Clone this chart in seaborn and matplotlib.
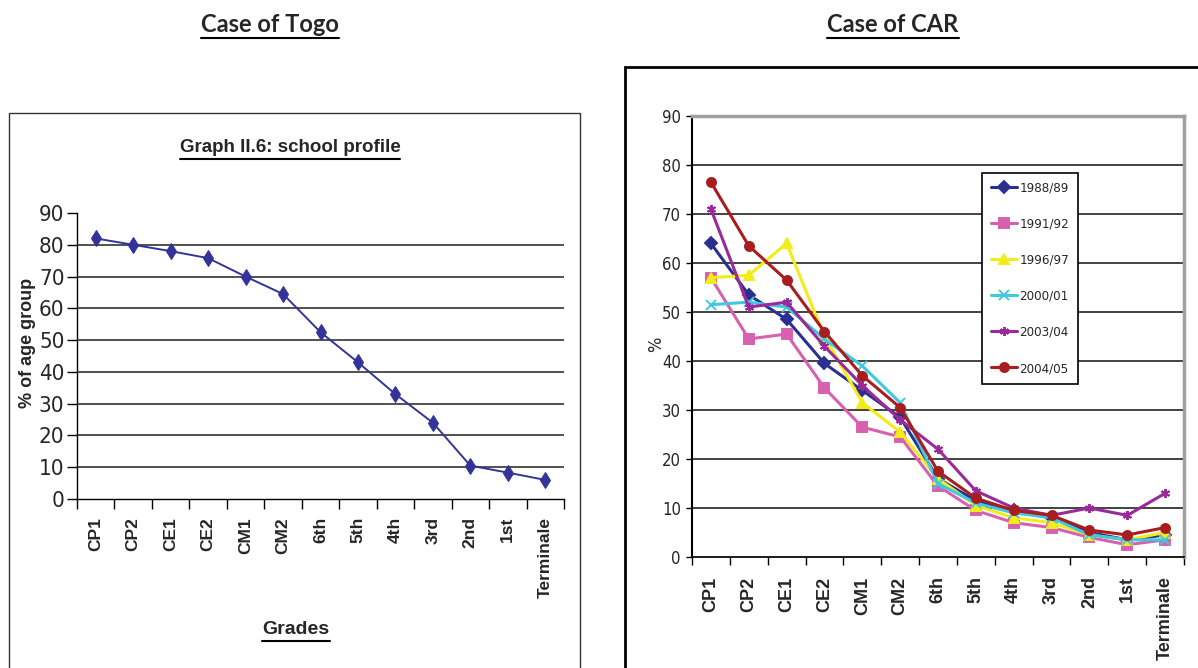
import numpy as np
import pandas as pd
import matplotlib
matplotlib.use('Agg')
import matplotlib.pyplot as plt
import seaborn as sns
from matplotlib import font_manager
from matplotlib.font_manager import FontProperties
from matplotlib.lines import Line2D
from matplotlib.patches import Rectangle

# ---- data ----
grades = ['CP1', 'CP2', 'CE1', 'CE2', 'CM1', 'CM2', '6th', '5th', '4th', '3rd', '2nd', '1st', 'Terminale']
togo = [82, 80, 78, 75.8, 70, 64.5, 52.5, 43, 33, 24, 10.5, 8.3, 6]

years = ['1988/89', '1991/92', '1996/97', '2000/01', '2003/04', '2004/05']
car_1988 = [64, 53.5, 48.5, 39.5, 34, 28.5, 16, 11.5, 9.5, 8, 5, 3.5, 4.5]
car_1991 = [57, 44.5, 45.5, 34.5, 26.5, 24.5, 14.5, 9.5, 7, 6, 4, 2.5, 3.5]
car_1996 = [57, 57.5, 64, 45, 31.5, 25.5, 16, 10.5, 8, 7, 4.5, 3.5, 5]
car_2000 = [51.5, 52, 51, 44.5, 39, 31.5, 15, 11, 9, 8, 4.5, 3.5, 3.5]
car_2003 = [71, 51, 52, 43, 35, 28, 22, 13.5, 10, 8.5, 10, 8.5, 13]
car_2004 = [76.5, 63.5, 56.5, 46, 37, 30.5, 17.5, 12, 9.5, 8.5, 5.5, 4.5, 6]

colors = {'1988/89': '#2B2F8F', '1991/92': '#D860B0', '1996/97': '#F2EC1A',
          '2000/01': '#40C8E0', '2003/04': '#9A2A9A', '2004/05': '#A81E1E'}
markers = {'1988/89': 'D', '1991/92': 's', '1996/97': '^',
           '2000/01': 'x', '2003/04': (6, 2, 0), '2004/05': 'o'}

df_togo = pd.DataFrame({'grade': grades, 'pct': togo})
df_car = pd.DataFrame({
    'grade': grades * len(years),
    'pct': car_1988 + car_1991 + car_1996 + car_2000 + car_2003 + car_2004,
    'year': np.repeat(years, len(grades)),
})

sns.set_theme(style='white')
plt.rcParams['font.family'] = ['Liberation Sans', 'DejaVu Sans']

# a condensed face for the narrow tick labels, if one is installed
cond = [f for f in font_manager.fontManager.ttflist
        if f.stretch in ('condensed', 'semi-condensed', 'extra-condensed')
        and f.style == 'normal' and f.weight in (400, 'normal', 'regular')]
cond.sort(key=lambda f: (0 if 'Liberation' in f.name else 1 if 'DejaVu Sans' == f.name else 2))
if cond:
    def narrow(size):
        return FontProperties(fname=cond[0].fname, size=size)
else:
    def narrow(size):
        return FontProperties(family='Liberation Sans', size=size * 0.9)

W, H = 1198, 668
fig = plt.figure(figsize=(W / 100, H / 100), dpi=100)


def box(x0, y0, x1, y1):
    return [x0 / W, 1 - y1 / H, (x1 - x0) / W, (y1 - y0) / H]


def underline(txt, pad=2, lw=1.5):
    fig.canvas.draw()
    bb = txt.get_window_extent(fig.canvas.get_renderer())
    y = (bb.y0 - pad) / H
    fig.add_artist(Line2D([bb.x0 / W, bb.x1 / W], [y, y], color='black', lw=lw,
                          transform=fig.transFigure))


# outer frames
fig.add_artist(Rectangle((9 / W, 1 - 700 / H), 571 / W, 587 / H, fill=False,
                         edgecolor='#333333', lw=1.0, transform=fig.transFigure))
fig.add_artist(Rectangle((625 / W, 1 - 700 / H), 600 / W, 633 / H, fill=False,
                         edgecolor='black', lw=2.0, transform=fig.transFigure))

# panel headings
t1 = fig.text(270 / W, 1 - 24 / H, 'Case of Togo', ha='center', va='center',
              fontsize=17, fontweight='bold', family=['Lato', 'Liberation Sans'])
t2 = fig.text(893 / W, 1 - 24 / H, 'Case of CAR', ha='center', va='center',
              fontsize=17, fontweight='bold', family=['Lato', 'Liberation Sans'])

# ---- left chart ----
ax1 = fig.add_axes(box(77, 213, 564, 499))
sns.lineplot(data=df_togo, x='grade', y='pct', marker='d', markersize=8.5,
             color='#333399', markeredgecolor='#333399', lw=1.4, ax=ax1, sort=False)
ax1.hlines(range(10, 90, 10), -0.5, 12.5, color='#333333', lw=1.2, zorder=0)
ax1.set_xlim(-0.5, 12.5)
ax1.set_ylim(0, 90)
ax1.set_yticks(range(0, 91, 10))
ax1.set_xticks(range(len(grades)))
ax1.set_xticklabels(grades, rotation=90, fontsize=12.5, fontweight='bold')
ax1.set_xticks(np.arange(-0.5, 13, 1), minor=True)
ax1.tick_params(axis='x', which='major', length=0, pad=13)
ax1.tick_params(axis='x', which='minor', length=7, width=1, color='black', direction='out', bottom=True)
ax1.tick_params(axis='y', length=7, width=1, color='black', direction='out', left=True, pad=2)
for lab in ax1.get_yticklabels():
    lab.set_fontproperties(narrow(16))
for s in ['top', 'right']:
    ax1.spines[s].set_visible(False)
for s in ['left', 'bottom']:
    ax1.spines[s].set_color('black')
    ax1.spines[s].set_linewidth(1.0)
ax1.set_xlabel('')
ax1.set_ylabel('% of age group', fontsize=13, fontweight='bold')
ax1.yaxis.set_label_coords(-41 / 487, 0.545)

t3 = fig.text(290 / W, 1 - 148 / H, 'Graph II.6: school profile', ha='center', va='center',
              fontsize=13.5, fontweight='bold')
t4 = fig.text(296 / W, 1 - 630 / H, 'Grades', ha='center', va='center',
              fontsize=14, fontweight='bold')

# ---- right chart ----
ax2 = fig.add_axes(box(692, 116, 1184, 557))
for yr in years:
    sub = df_car[df_car['year'] == yr]
    sns.lineplot(data=sub, x='grade', y='pct', color=colors[yr], marker=markers[yr],
                 markersize=7, markeredgewidth=1.4, markeredgecolor=colors[yr],
                 lw=1.3, ax=ax2, sort=False, label=yr)
ax2.hlines(range(10, 90, 10), -0.5, 12.5, color='#222222', lw=1.2, zorder=0)
ax2.set_xlim(-0.5, 12.5)
ax2.set_ylim(0, 90)
ax2.set_yticks(range(0, 91, 10))
ax2.set_xticks(range(len(grades)))
ax2.set_xticklabels(grades, rotation=90, fontsize=13, fontweight='bold')
ax2.set_xticks(np.arange(-0.5, 13, 1), minor=True)
ax2.tick_params(axis='x', which='major', length=0, pad=14)
ax2.tick_params(axis='x', which='minor', length=6, width=1, color='black', direction='out', bottom=True)
ax2.tick_params(axis='y', length=4, width=1, color='black', direction='out', left=True, pad=4)
for lab in ax2.get_yticklabels():
    lab.set_fontproperties(narrow(12))
ax2.spines['top'].set_color('#A0A0A0')
ax2.spines['right'].set_color('#A0A0A0')
ax2.spines['top'].set_linewidth(2.5)
ax2.spines['right'].set_linewidth(2.5)
ax2.spines['left'].set_color('black')
ax2.spines['bottom'].set_color('black')
ax2.spines['left'].set_linewidth(1.5)
ax2.set_xlabel('')
ax2.set_ylabel('%', fontproperties=narrow(13))
ax2.yaxis.set_label_coords(-27 / 492, 0.483)

handles, labels = ax2.get_legend_handles_labels()
for h in handles:
    h.set_linewidth(2.2)
    h.set_markersize(6.5)
leg = ax2.legend(handles, labels, loc='upper left', bbox_to_anchor=(982 / W, 1 - 173 / H),
                 bbox_transform=fig.transFigure, frameon=True, fancybox=False,
                 edgecolor='black', framealpha=1, handlelength=2.0, handletextpad=0.2,
                 labelspacing=1.75, borderpad=0.65, borderaxespad=0, prop=narrow(9.5))
leg.get_frame().set_linewidth(1.2)

for t in (t1, t2, t3, t4):
    underline(t)

fig.savefig('out.png', dpi=100)
